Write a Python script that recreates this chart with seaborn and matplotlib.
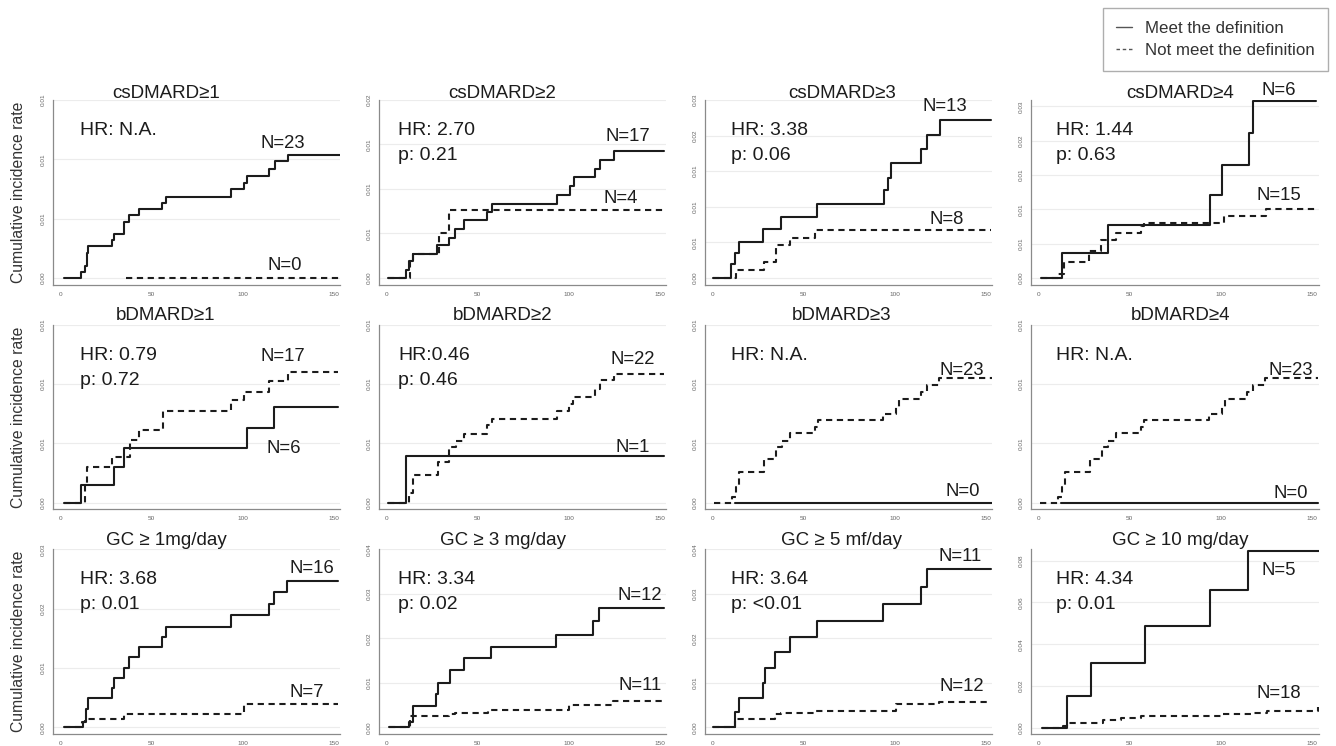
import pandas as pd
import seaborn as sns
import matplotlib
matplotlib.use("Agg")
from matplotlib import pyplot as plt
from matplotlib.lines import Line2D
from matplotlib.ticker import FixedLocator, FormatStrFormatter

# Panel titles, row by row.
titles = ["csDMARD≥1", "csDMARD≥2", "csDMARD≥3", "csDMARD≥4",
          "bDMARD≥1", "bDMARD≥2", "bDMARD≥3", "bDMARD≥4",
          "GC ≥ 1mg/day", "GC ≥ 3 mg/day", "GC ≥ 5 mf/day", "GC ≥ 10 mg/day"]

hr_labels = ["HR: N.A.", "HR: 2.70", "HR: 3.38", "HR: 1.44",
             "HR: 0.79", "HR:0.46", "HR: N.A.", "HR: N.A.",
             "HR: 3.68", "HR: 3.34", "HR: 3.64", "HR: 4.34"]
p_labels = ["", "p: 0.21", "p: 0.06", "p: 0.63",
            "p: 0.72", "p: 0.46", "", "",
            "p: 0.01", "p: 0.02", "p: <0.01", "p: 0.01"]

n_meet = ["N=23", "N=17", "N=13", "N=6", "N=6", "N=1", "N=0", "N=0",
          "N=16", "N=12", "N=11", "N=5"]
n_not = ["N=0", "N=4", "N=8", "N=15", "N=17", "N=22", "N=23", "N=23",
         "N=7", "N=11", "N=12", "N=18"]

# Cumulative incidence curves, (days, rate).
cs1_meet = [(2, 0), (11.4, 0.00048), (13.5, 0.00099), (14.8, 0.00211), (15.3, 0.00268),
            (28.3, 0.00318), (29.4, 0.00366), (35.1, 0.0047), (37.5, 0.00527), (42.9, 0.00577),
            (55.9, 0.00634), (57.7, 0.00685), (93.7, 0.00746), (100.5, 0.00803), (102.3, 0.00859),
            (114.4, 0.00921), (117.5, 0.00986), (124.7, 0.01034), (153, 0.01034)]
cs1_not = [(36, 0), (153, 0)]

cs2_meet = [(1, 0), (10.6, 0.00093), (12.6, 0.00187), (14.4, 0.00273), (27.8, 0.00366),
            (34.6, 0.00449), (37.9, 0.0055), (42.8, 0.00647), (55.4, 0.0074), (57.8, 0.00834),
            (93.3, 0.00927), (100.5, 0.01036), (102.9, 0.0113), (114.4, 0.01227), (117.3, 0.01328),
            (124.5, 0.01432), (152, 0.01432)]
cs2_not = [(1, 0), (13, 0.00176), (14.4, 0.00269), (28.9, 0.005), (34.6, 0.00767), (152, 0.00767)]

cs3_meet = [(0.5, 0), (10.5, 0.00188), (12.7, 0.00343), (14.5, 0.00508), (27.8, 0.00681),
            (37.8, 0.0086), (57.5, 0.01034), (94, 0.01231), (96.4, 0.0141), (97.7, 0.0161),
            (114.5, 0.0181), (117.8, 0.0201), (124.7, 0.0222), (152.7, 0.0222)]
cs3_not = [(0.5, 0), (12.9, 0.00117), (28.4, 0.00221), (34.7, 0.00456), (42.4, 0.00555),
           (56, 0.00672), (152.7, 0.00672)]

cs4_meet = [(1.3, 0), (13.2, 0.00366), (38, 0.00771), (94, 0.01206), (100.4, 0.01646),
            (115.2, 0.02114), (117.5, 0.02573), (152, 0.02573)]
cs4_not = [(1.3, 0), (10.8, 0.00063), (13.9, 0.00234), (28, 0.0039), (34.4, 0.00561),
           (42.5, 0.00659), (56, 0.00757), (57.9, 0.00806), (102, 0.00903), (124.8, 0.01001),
           (152, 0.01001)]

b1_meet = [(1.8, 0), (11.4, 0.0015), (29.2, 0.00302), (35.1, 0.00458), (102.3, 0.0063),
           (117, 0.00808), (152, 0.00808)]
b1_not = [(1.8, 0), (13.5, 0.0015), (14.8, 0.00302), (28.3, 0.00381), (38.4, 0.00528),
          (43.2, 0.00613), (56.2, 0.00768), (93.7, 0.00862), (100.9, 0.00932), (114.4, 0.01025),
          (124.6, 0.01105), (152, 0.01105)]

b2_meet = [(1, 0), (10.8, 0.00395), (152, 0.00395)]
b2_not = [(1, 0), (12.6, 0.0008), (14.4, 0.00234), (28.3, 0.00339), (34.3, 0.00466),
          (38, 0.00523), (42.8, 0.00579), (55.4, 0.0065), (57.8, 0.00706), (93.3, 0.00768),
          (100, 0.0083), (102.5, 0.0089), (114.5, 0.0096), (117.2, 0.01031), (124.9, 0.01088),
          (152, 0.01088)]

b3_meet = [(12.7, 0), (153, 0)]
b3_not = [(0.9, 0), (10.9, 0.00048), (13.2, 0.00127), (14.5, 0.00254), (28.1, 0.00367),
          (34.8, 0.00466), (38, 0.00523), (42.6, 0.00585), (56.2, 0.00641), (58, 0.00698),
          (93.3, 0.00749), (100.5, 0.0081), (102.4, 0.0087), (114.1, 0.00932), (117.8, 0.00989),
          (124.1, 0.01054), (153, 0.01054)]

b4_meet = [(12.7, 0), (153, 0)]
b4_not = [(0.9, 0), (10.9, 0.00048), (13.2, 0.00127), (14.5, 0.00254), (28.1, 0.00367),
          (34.8, 0.00466), (38, 0.00523), (42.6, 0.00585), (56.2, 0.00641), (58, 0.00698),
          (93.3, 0.00749), (100.5, 0.0081), (102.4, 0.0087), (114.1, 0.00932), (117.8, 0.00989),
          (124.1, 0.01054), (153, 0.01054)]

gc1_meet = [(1.8, 0), (12.6, 0.00094), (14, 0.00306), (15.3, 0.005), (28.3, 0.00667),
            (29.2, 0.00833), (35.1, 0.01), (37.8, 0.01178), (42.9, 0.0135), (55.9, 0.01528),
            (57.7, 0.01694), (93.7, 0.01889), (114.4, 0.02083), (117.1, 0.02278), (124.3, 0.02472),
            (152, 0.02472)]
gc1_not = [(1.8, 0), (11.7, 0.00083), (13.5, 0.00139), (35.1, 0.00222), (100.5, 0.00389),
           (152, 0.00389)]

gc3_meet = [(1.4, 0), (12.5, 0.00129), (14.8, 0.00486), (27.2, 0.00737), (28.5, 0.01002),
            (34.9, 0.01291), (42.3, 0.01549), (57.5, 0.018), (93, 0.0208), (113.5, 0.02384),
            (116.6, 0.02673), (152, 0.02673)]
gc3_not = [(1.4, 0), (13, 0.00258), (34.3, 0.0029), (37.9, 0.00319), (55.7, 0.00395),
           (100.2, 0.00509), (124.2, 0.00585), (152, 0.00585)]

gc5_meet = [(0.5, 0), (12.4, 0.00332), (14.5, 0.00664), (27.8, 0.00996), (28.7, 0.01343),
            (34.5, 0.01683), (42.4, 0.0203), (57.5, 0.02399), (93.3, 0.02768), (114.2, 0.03151),
            (117.5, 0.03557), (152.7, 0.03557)]
gc5_not = [(0.5, 0), (12.7, 0.00185), (34.2, 0.00295), (37.8, 0.0031), (56, 0.00369),
           (100.5, 0.00517), (124.2, 0.00568), (152.7, 0.00568)]

gc10_meet = [(1.8, 0), (15.5, 0.01511), (28.7, 0.03086), (58.5, 0.04851), (94.2, 0.066),
             (115.1, 0.08477), (153.6, 0.08477)]
gc10_not = [(1.8, 0), (13.6, 0.0008), (15.5, 0.0021), (29, 0.0024), (35.5, 0.0035),
            (45.5, 0.0048), (56.4, 0.0056), (100, 0.0067), (118, 0.0072), (125.5, 0.008),
            (153.3, 0.0099)]

meet_curves = [cs1_meet, cs2_meet, cs3_meet, cs4_meet, b1_meet, b2_meet, b3_meet, b4_meet,
               gc1_meet, gc3_meet, gc5_meet, gc10_meet]
not_curves = [cs1_not, cs2_not, cs3_not, cs4_not, b1_not, b2_not, b3_not, b4_not,
              gc1_not, gc3_not, gc5_not, gc10_not]

# Y ticks per panel (labels are the values printed with 2 decimals).
yticks_small = [0, 0.005, 0.01, 0.015]
yticks = [yticks_small, [0, 0.005, 0.01, 0.015, 0.02],
          [0, 0.005, 0.01, 0.015, 0.02, 0.025], [0, 0.005, 0.01, 0.015, 0.02, 0.025],
          yticks_small, yticks_small, yticks_small, yticks_small,
          [0, 0.01, 0.02, 0.03], [0, 0.01, 0.02, 0.03, 0.04],
          [0, 0.01, 0.02, 0.03, 0.04], [0, 0.02, 0.04, 0.06, 0.08]]
xticks = [0, 50, 100, 150]

# Layout of the text inside each panel (axes fractions).
title_x = [0.393, 0.43, 0.476, 0.52]
title_y = [1.01, 1.023, 1.025]
hr_x = [0.093, 0.066, 0.09, 0.087]
n_meet_pos = [(0.80, 0.774), (0.867, 0.81), (0.835, 0.973), (0.862, 1.063),
              (0.803, 0.339), (0.884, 0.345), (0.896, 0.104), (0.903, 0.093),
              (0.90, 0.905), (0.908, 0.761), (0.889, 0.969), (0.862, 0.897)]
n_not_pos = [(0.807, 0.115), (0.839, 0.476), (0.841, 0.361), (0.862, 0.495),
             (0.801, 0.835), (0.882, 0.823), (0.893, 0.763), (0.903, 0.763),
             (0.883, 0.237), (0.908, 0.273), (0.893, 0.265), (0.862, 0.228)]

INK = "#1c1c1c"
AXIS_GREY = "#8a8a8a"


def to_frame(meet, not_meet):
    rows = [(t, r, "meet") for t, r in meet] + [(t, r, "not") for t, r in not_meet]
    return pd.DataFrame(rows, columns=["days", "rate", "group"])


def draw_panel(ax, i):
    df = to_frame(meet_curves[i], not_curves[i])
    sns.lineplot(data=df, x="days", y="rate", style="group", style_order=["meet", "not"],
                 dashes={"meet": "", "not": (3, 2.2)}, color=INK, linewidth=1.5,
                 drawstyle="steps-post", estimator=None, legend=False, ax=ax)

    ticks = yticks[i]
    top = max(ticks[-1], df["rate"].max() * 1.008)
    ax.set_ylim(-0.038 * ticks[-1], top)
    ax.set_xlim(-4, 153.5)
    ax.yaxis.set_major_locator(FixedLocator(ticks))
    ax.yaxis.set_major_formatter(FormatStrFormatter("%.2f"))
    ax.xaxis.set_major_locator(FixedLocator(xticks))
    ax.grid(axis="y", color="#ececec", linewidth=0.8)
    ax.grid(axis="x", visible=False)
    ax.set_xlabel("")
    ax.set_ylabel("")
    for s in ["top", "right"]:
        ax.spines[s].set_visible(False)
    for s in ["left", "bottom"]:
        ax.spines[s].set_color(AXIS_GREY)
        ax.spines[s].set_linewidth(0.9)
    ax.tick_params(axis="both", length=3, width=0.7, color=AXIS_GREY,
                   labelsize=4.6, labelcolor="#666666", pad=2)
    ax.tick_params(axis="y", labelrotation=90)
    for lab in ax.get_yticklabels():
        lab.set_va("center")

    row, col = divmod(i, 4)
    ax.text(title_x[col], title_y[row], titles[i], transform=ax.transAxes,
            ha="center", va="baseline", fontsize=13.5, color=INK)
    ax.text(hr_x[col], 0.81, hr_labels[i], transform=ax.transAxes,
            ha="left", va="baseline", fontsize=14, color=INK)
    if p_labels[i]:
        ax.text(hr_x[col], 0.675, p_labels[i], transform=ax.transAxes,
                ha="left", va="baseline", fontsize=14, color=INK)
    mx, my = n_meet_pos[i]
    ax.text(mx, my - 0.01, n_meet[i], transform=ax.transAxes,
            ha="center", va="center", fontsize=13.3, color=INK)
    nx, ny = n_not_pos[i]
    ax.text(nx, ny - 0.01, n_not[i], transform=ax.transAxes,
            ha="center", va="center", fontsize=13.3, color=INK)

    if col == 0:
        ax.set_ylabel("Cumulative incidence rate", fontsize=11.3, color="#333333")
        ax.yaxis.set_label_coords(-0.094, 0.5)


def main():
    sns.set_theme(style="white")
    plt.rcParams["font.family"] = ["Liberation Sans", "DejaVu Sans"]

    fig, axes = plt.subplots(3, 4, figsize=(13.36, 7.46), dpi=100)
    fig.subplots_adjust(left=53 / 1336, right=1318.5 / 1336, top=1 - 100 / 746,
                        bottom=1 - 734 / 746, wspace=0.134, hspace=0.217)

    for i, ax in enumerate(axes.flat):
        draw_panel(ax, i)

    handles = [Line2D([], [], color="#555555", linewidth=1.0),
               Line2D([], [], color="#555555", linewidth=1.0, linestyle=(0, (2.5, 2)))]
    leg = fig.legend(handles, ["Meet the definition", "Not meet the definition"],
                     loc="upper left", bbox_to_anchor=(1103 / 1336, 1 - 8 / 746),
                     borderaxespad=0, fontsize=12.2, frameon=True, fancybox=False,
                     handlelength=0.95, handletextpad=0.8, labelspacing=0.45,
                     borderpad=0.75, labelcolor="#333333")
    leg.get_frame().set_edgecolor("#9a9a9a")
    leg.get_frame().set_linewidth(1.0)

    fig.savefig("out.png", dpi=100)


if __name__ == '__main__':
    main()
